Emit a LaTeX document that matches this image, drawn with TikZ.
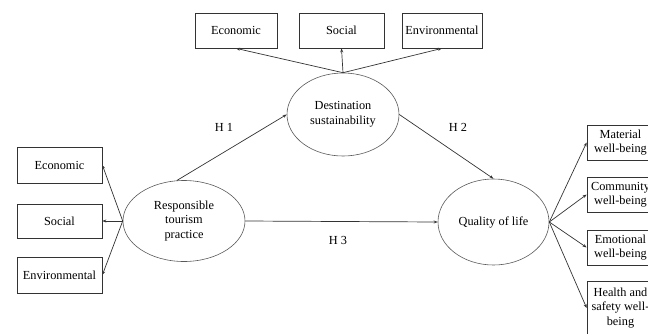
\documentclass[tikz,border=0pt]{standalone}
\usepackage{fontspec}
\setmainfont{Liberation Serif}
\usetikzlibrary{shapes.geometric,arrows.meta}
\begin{document}
\begin{tikzpicture}[x=1pt,y=-1pt,
  every node/.style={font=\fontsize{12.3}{14.5}\selectfont, text=black},
  box/.style={draw=black!80, line width=0.7pt, rectangle, inner sep=2pt, minimum width=#1, align=center},
  box/.default=85,
  oval/.style={draw=black!65, line width=0.6pt, ellipse, inner sep=0pt, align=center},
  arr/.style={draw=black!80, line width=0.7pt, -{Stealth[length=4pt,width=3pt]}},
  lbl/.style={inner sep=0pt}]
\useasboundingbox (0,0) rectangle (648,333);
\clip (0,0) rectangle (648,333);
% top indicators
\node[box=82, minimum height=35] (TE) at (236,30.5) {Economic};
\node[box=85, minimum height=35] (TS) at (341.5,30.5) {Social};
\node[box=80, minimum height=35] (TV) at (442,30.5) {Environmental};
% constructs
\node[oval, minimum width=112, minimum height=83] (D) at (343,114.5) {Destination\\sustainability};
\node[oval, minimum width=122, minimum height=81] (R) at (184,221) {Responsible\\tourism\\practice};
\node[oval, minimum width=111, minimum height=86] (Q) at (493.5,222) {Quality of life};
% left indicators
\node[box=85, minimum height=36] (LE) at (59.5,165) {Economic};
\node[box=85, minimum height=34] (LS) at (59.5,221) {Social};
\node[box=85, minimum height=36] (LV) at (59.5,275) {Environmental};
% right indicators
\node[box=67, minimum height=35] (RM) at (620.5,142.5) {Material\\well-being};
\node[box=67, minimum height=35] (RC) at (620.5,194.5) {Community\\well-being};
\node[box=67, minimum height=35] (RE) at (620.5,247.5) {Emotional\\well-being};
\node[box=67, minimum height=54] (RH) at (620.5,308) {Health and\\safety well-\\being};
% hypothesis labels
\node[lbl] (H1) at (224,127) {H 1};
\node[lbl] (H2) at (458,127) {H 2};
\node[lbl] (H3) at (338,240) {H 3};
% connectors
\draw[arr] (D.north) -- (TE.south);
\draw[arr] (D.north) -- (TS.south);
\draw[arr] (D.north) -- (TV.south);
\draw[arr] (R.west) -- (LE.east);
\draw[arr] (R.west) -- (LS.east);
\draw[arr] (R.west) -- (LV.east);
\draw[arr] (Q.east) -- (RM.west);
\draw[arr] (Q.east) -- (RC.west);
\draw[arr] (Q.east) -- (RE.west);
\draw[arr] (Q.east) -- (RH.west);
\draw[arr] (R.100) -- (D.west);
\draw[arr] (D.east) -- (Q.north);
\draw[arr] (R.east) -- (Q.west);
\end{tikzpicture}
\end{document}
